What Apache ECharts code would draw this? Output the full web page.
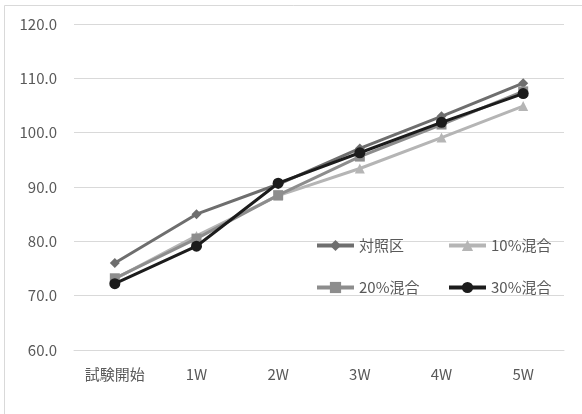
<!DOCTYPE html>
<html>
<head>
<meta charset="utf-8">
<script src="https://cdn.jsdelivr.net/npm/echarts@6/dist/echarts.min.js"></script>
<style>
html,body{margin:0;padding:0;background:#fff;}
#c{width:582px;height:414px;}
</style>
</head>
<body>
<div id="c"></div>
<script>
var categories = ['試験開始', '1W', '2W', '3W', '4W', '5W'];
var control = [76.0, 85.0, 90.5, 97.1, 103.0, 109.1];
var mix10 = [73.1, 81.0, 88.4, 93.4, 99.1, 104.9];
var mix20 = [73.2, 80.5, 88.5, 95.6, 101.5, 107.6];
var mix30 = [72.2, 79.1, 90.7, 96.3, 101.9, 107.2];
var seriesNames = ['対照区', '10%混合', '20%混合', '30%混合'];
var yTicks = { min: 60, max: 120, interval: 10 };

var font = '"Noto Sans CJK JP", "Noto Sans", sans-serif';
var colors = ['#6e6e6e', '#b5b5b5', '#8d8d8d', '#1c1c1c'];
var symbols = ['diamond', 'triangle', 'rect', 'circle'];
var sizes = [10, 10, 10, 11];
var dataSets = [control, mix10, mix20, mix30];

var chart = echarts.init(document.getElementById('c'), null, { renderer: 'canvas' });

function mkLegend(name, left, top) {
  return {
    data: [name], left: left, top: top, orient: 'horizontal',
    itemWidth: 37, itemHeight: 14, itemGap: 0, padding: 0,
    lineStyle: { width: 4 },
    textStyle: { color: '#595959', fontSize: 15, fontFamily: font },
    selectedMode: false
  };
}

var option = {
  animation: false,
  backgroundColor: '#fff',
  graphic: [{
    type: 'rect', left: 2, top: 3, z: -1,
    shape: { width: 582, height: 409 },
    style: { fill: 'none', stroke: '#d9d9d9', lineWidth: 1 }
  }],
  legend: [
    mkLegend(seriesNames[0], 315, 238),
    mkLegend(seriesNames[1], 447, 238),
    mkLegend(seriesNames[2], 315, 280),
    mkLegend(seriesNames[3], 447, 280)
  ],
  grid: { left: 74, right: 18, top: 24, bottom: 64, containLabel: false },
  xAxis: {
    type: 'category', data: categories, boundaryGap: true,
    axisLine: { show: true, lineStyle: { color: '#d9d9d9', width: 1 } },
    axisTick: { show: false },
    axisLabel: { color: '#595959', fontSize: 15, fontFamily: font, margin: 17 }
  },
  yAxis: {
    type: 'value', min: yTicks.min, max: yTicks.max, interval: yTicks.interval,
    axisLine: { show: false }, axisTick: { show: false },
    splitLine: { lineStyle: { color: '#d9d9d9', width: 1 } },
    axisLabel: {
      color: '#595959', fontSize: 15, fontFamily: font, margin: 17,
      formatter: function (v) { return v.toFixed(1); }
    }
  },
  series: seriesNames.map(function (n, i) {
    return {
      name: n, type: 'line', data: dataSets[i],
      symbol: symbols[i], symbolSize: sizes[i],
      lineStyle: { color: colors[i], width: 3 },
      itemStyle: { color: colors[i], borderWidth: 0 },
      z: 2 + i
    };
  })
};
chart.setOption(option);
</script>
</body>
</html>
